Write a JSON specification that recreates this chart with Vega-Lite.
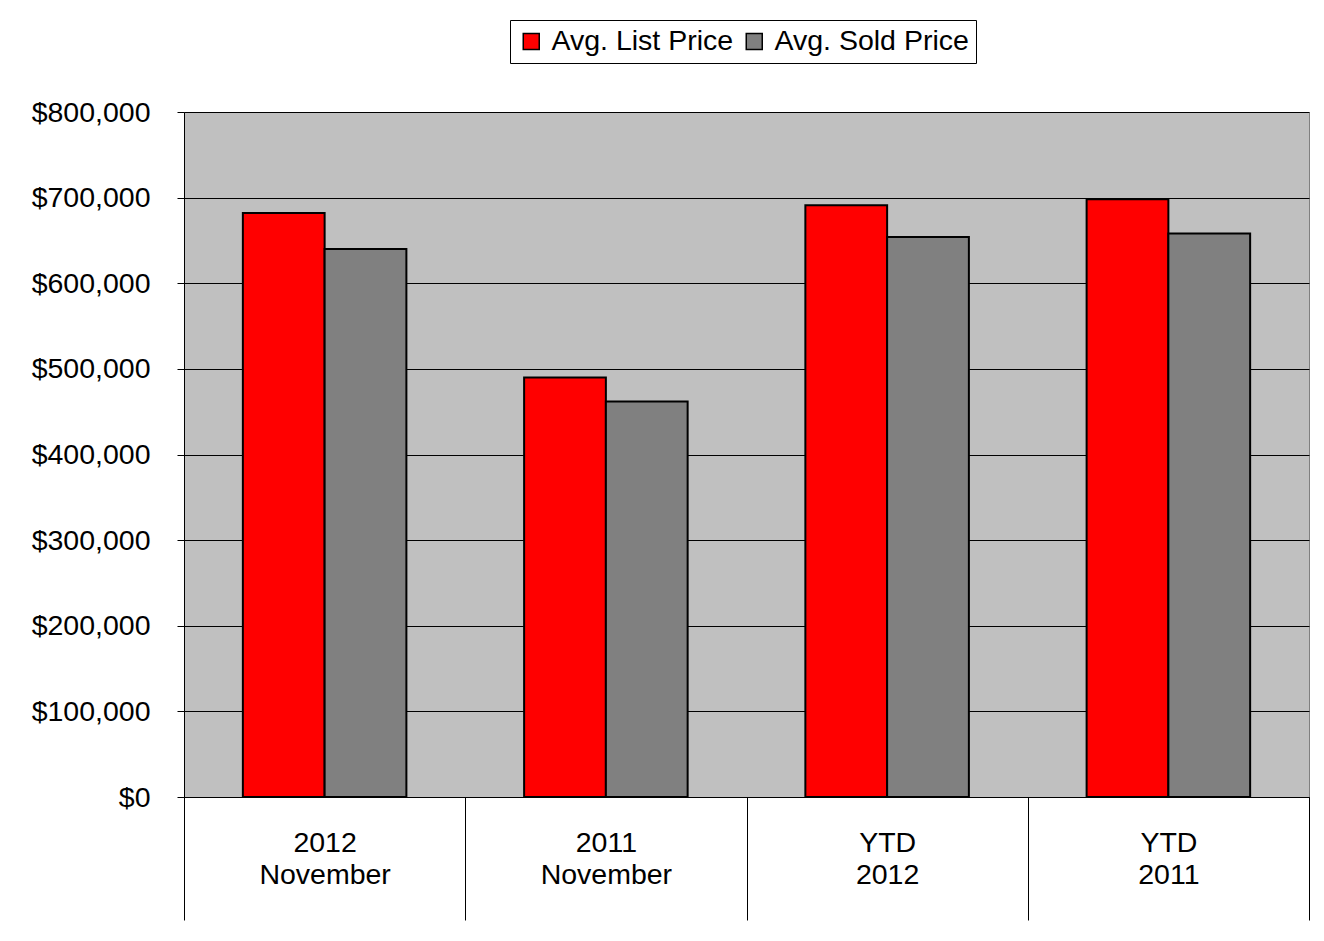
{
  "$schema": "https://vega.github.io/schema/vega-lite/v6.json",
  "width": 1125,
  "height": 685,
  "autosize": {"type": "none"},
  "padding": {"left": 184, "top": 112, "right": 15, "bottom": 144},
  "background": "white",
  "data": {
    "values": [
      {"period": "2012|November", "series": "Avg. List Price", "value": 682000},
      {"period": "2012|November", "series": "Avg. Sold Price", "value": 640000},
      {"period": "2011|November", "series": "Avg. List Price", "value": 490000},
      {"period": "2011|November", "series": "Avg. Sold Price", "value": 462000},
      {"period": "YTD|2012", "series": "Avg. List Price", "value": 691000},
      {"period": "YTD|2012", "series": "Avg. Sold Price", "value": 654000},
      {"period": "YTD|2011", "series": "Avg. List Price", "value": 698000},
      {"period": "YTD|2011", "series": "Avg. Sold Price", "value": 658000}
    ]
  },
  "mark": {"type": "bar", "stroke": "black", "strokeWidth": 2},
  "encoding": {
    "x": {
      "field": "period",
      "type": "nominal",
      "sort": null,
      "scale": {"paddingInner": 0, "paddingOuter": 0},
      "axis": {
        "title": null,
        "labelAngle": 0,
        "labelExpr": "split(datum.label, '|')",
        "tickBand": "extent",
        "tickSize": 123,
        "tickColor": "#000",
        "tickWidth": 1,
        "domainColor": "#000",
        "labelPadding": -92,
        "labelFontSize": 28.5,
        "labelLineHeight": 32,
        "labelBaseline": "top",
        "labelColor": "#000"
      }
    },
    "xOffset": {
      "field": "series",
      "type": "nominal",
      "sort": null,
      "scale": {"paddingInner": 0, "paddingOuter": 0.72}
    },
    "y": {
      "field": "value",
      "type": "quantitative",
      "scale": {"domain": [0, 800000]},
      "axis": {
        "title": null,
        "format": "$,.0f",
        "values": [0, 100000, 200000, 300000, 400000, 500000, 600000, 700000, 800000],
        "grid": true,
        "gridColor": "#000",
        "gridOpacity": 1,
        "tickSize": 7,
        "tickColor": "#000",
        "domainColor": "#000",
        "labelPadding": 27,
        "labelFontSize": 28.5,
        "labelColor": "#000"
      }
    },
    "color": {
      "field": "series",
      "type": "nominal",
      "sort": null,
      "scale": {"domain": ["Avg. List Price", "Avg. Sold Price"], "range": ["#FF0000", "#808080"]},
      "legend": {
        "title": null,
        "orient": "none",
        "direction": "horizontal",
        "legendX": 326,
        "legendY": -92,
        "strokeColor": "#000",
        "fillColor": "white",
        "padding": 7,
        "symbolType": "square",
        "symbolSize": 256,
        "symbolStrokeColor": "#000",
        "symbolStrokeWidth": 1.5,
        "labelFontSize": 28.5,
        "labelLimit": 0,
        "labelColor": "#000",
        "columnPadding": 6,
        "labelOffset": 6
      }
    }
  },
  "config": {
    "font": "Liberation Sans",
    "view": {"fill": "#C0C0C0", "stroke": "#808080"},
    "axis": {"labelFont": "Liberation Sans"},
    "legend": {"labelFont": "Liberation Sans"}
  }
}
